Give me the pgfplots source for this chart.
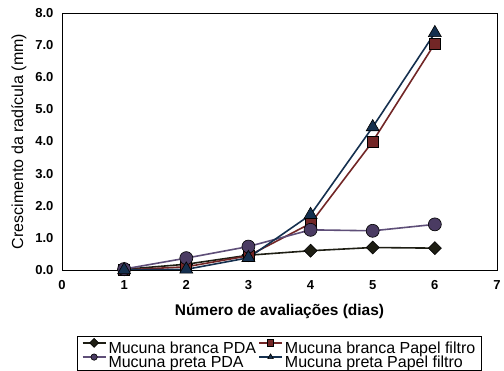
\documentclass[border=0pt]{standalone}
\usepackage{pgfplots}
\pgfplotsset{compat=1.18}
\usepackage{fontspec}
\setmainfont{Liberation Sans}
\definecolor{cblack}{HTML}{1E1E14}
\definecolor{cpurple}{HTML}{4A3B62}
\definecolor{cpurpleline}{HTML}{5E4E78}
\definecolor{cred}{HTML}{722626}
\definecolor{cnavy}{HTML}{15304F}
\begin{document}
\begin{tikzpicture}[x=1pt,y=1pt]
\path[use as bounding box] (-62,-101) rectangle (442,270);
\begin{axis}[
  at={(0,0)}, anchor=origin,
  scale only axis, width=435pt, height=257pt,
  xmin=0, xmax=7, ymin=0, ymax=8,
  xtick={0,1,2,3,4,5,6,7}, xticklabels={0,1,2,3,4,5,6,7},
  ytick={0,1,2,3,4,5,6,7,8}, yticklabels={0.0,1.0,2.0,3.0,4.0,5.0,6.0,7.0,8.0},
  major tick length=0pt,
  ticklabel style={font=\bfseries\fontsize{13}{14}\selectfont},
  yticklabel style={xshift=-5pt},
  xticklabel style={yshift=-7pt},
  axis line style={black, line width=0.8pt},
  xlabel={\bfseries Número de avaliações (dias)},
  ylabel={Crescimento da radícula (mm)},
  xlabel style={font=\fontsize{15.5}{16}\selectfont, yshift=-8pt},
  ylabel style={font=\fontsize{16}{17}\selectfont, yshift=2pt},
  legend columns=2,
  legend style={at={(0.5,-0.257)}, anchor=north, draw=black, line width=0.6pt,
    font=\fontsize{16}{17}\selectfont, inner xsep=4pt, inner ysep=2pt, row sep=0pt,
    nodes={text height=13.5pt, text depth=0.5pt, inner ysep=0pt},
    /tikz/every even column/.append style={column sep=0pt},
    /tikz/column 2/.style={column sep=52pt}},
  legend cell align=left,
  legend image code/.code={\draw[mark repeat=2,mark phase=2,#1, line width=1.8pt, mark size=3.2pt] plot coordinates {(0pt,4pt)(11.5pt,4pt)(23pt,4pt)};},
  every axis plot/.append style={line width=1.6pt},
]
\addplot[cblack, mark=square*, mark size=4.6pt, mark options={rotate=45, fill=cblack, draw=black, line width=0.6pt}]
  coordinates {(1,0.02) (2,0.18) (3,0.46) (4,0.6) (5,0.7) (6,0.68)};
\addlegendentry{Mucuna branca PDA}
\addplot[cred, mark=square*, mark size=5.5pt, mark options={fill=cred, draw=black, line width=0.6pt}]
  coordinates {(1,0.0) (2,0.1) (3,0.44) (4,1.45) (5,4.0) (6,7.05)};
\addlegendentry{Mucuna branca Papel filtro}
\addplot[cpurpleline, mark=*, mark size=6.5pt, mark options={fill=cpurple, draw=black, line width=0.6pt}]
  coordinates {(1,0.03) (2,0.37) (3,0.73) (4,1.25) (5,1.22) (6,1.42)};
\addlegendentry{Mucuna preta PDA}
\addplot[cnavy, mark=triangle*, mark size=7.5pt, mark options={fill=cnavy, draw=black, line width=0.6pt}]
  coordinates {(1,0.0) (2,0.02) (3,0.38) (4,1.72) (5,4.45) (6,7.38)};
\addlegendentry{Mucuna preta Papel filtro}
\end{axis}
\end{tikzpicture}
\end{document}
